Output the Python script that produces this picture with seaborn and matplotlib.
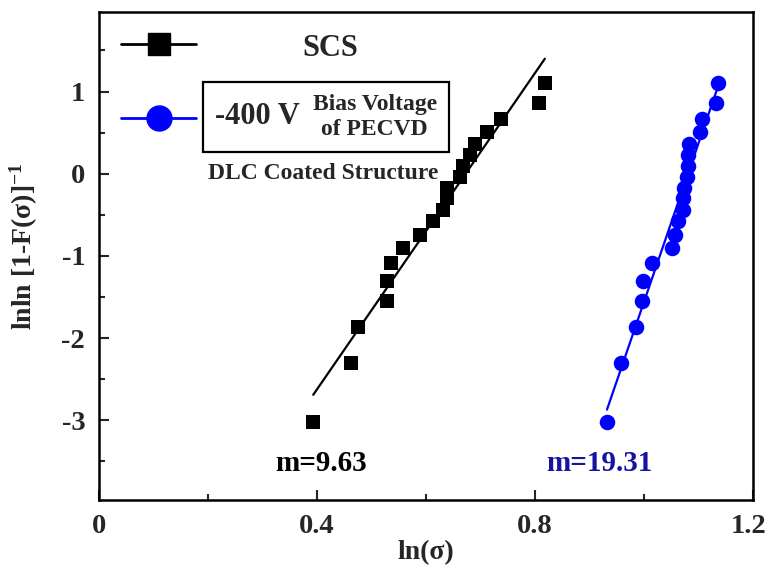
"""
Weibull plot of SCS vs DLC coated structure.
"""

import matplotlib.pyplot as plt
import matplotlib.transforms as mtransforms
import seaborn as sns
from matplotlib.lines import Line2D
from matplotlib.ticker import MultipleLocator
from matplotlib.offsetbox import TextArea, HPacker, AnchoredOffsetbox

# lnln[1-F]^-1 for each rank (same ranks for both sets)
lnln_f = [-3.02, -2.30, -1.87, -1.55, -1.30, -1.09, -0.90, -0.74, -0.58, -0.44,
          -0.30, -0.17, -0.04, 0.09, 0.23, 0.36, 0.51, 0.67, 0.86, 1.11]

# ln(sigma) for bare single crystal silicon
scs_ln_sigma = [0.393, 0.462, 0.475, 0.528, 0.528, 0.535, 0.558, 0.589, 0.613, 0.631,
                0.638, 0.638, 0.662, 0.668, 0.681, 0.690, 0.712, 0.737, 0.807, 0.818]

# ln(sigma) for -400 V DLC coated structure
dlc_ln_sigma = [0.932, 0.958, 0.985, 0.996, 0.998, 1.015, 1.051, 1.057, 1.063, 1.071,
                1.072, 1.073, 1.079, 1.081, 1.081, 1.083, 1.103, 1.106, 1.132, 1.136]

x_ticks = [0, 0.4, 0.8, 1.2]
x_tick_labels = ["0", "0.4", "0.8", "1.2"]
y_ticks = [-3, -2, -1, 0, 1]
y_tick_labels = ["-3", "-2", "-1", "0", "1"]
moduli = ["m=9.63", "m=19.31"]

sns.set_theme(style="ticks")
plt.rcParams.update({
    "font.family": ["Liberation Serif", "DejaVu Serif"],
    "font.weight": "bold",
    "axes.labelweight": "bold",
    "axes.unicode_minus": False,
    "mathtext.fontset": "custom",
    "mathtext.rm": "Liberation Serif:bold",
    "mathtext.it": "Liberation Serif:bold",
    "mathtext.bf": "Liberation Serif:bold",
    "mathtext.default": "rm",
})

BLUE = "#0000ff"
DARK_BLUE = "#1414a0"

fig = plt.figure(figsize=(7.68, 5.71), dpi=100)
ax = fig.add_axes([0.129, 0.1243, 0.8515, 0.855])

# fitted lines
sns.regplot(x=scs_ln_sigma, y=lnln_f, ax=ax, ci=None, scatter=False,
            line_kws=dict(color="black", lw=1.6))
sns.regplot(x=dlc_ln_sigma, y=lnln_f, ax=ax, ci=None, scatter=False,
            line_kws=dict(color=BLUE, lw=1.6))

# data points
sns.scatterplot(x=scs_ln_sigma, y=lnln_f, ax=ax, marker="s", s=95,
                color="black", linewidth=0, zorder=3)
sns.scatterplot(x=dlc_ln_sigma, y=lnln_f, ax=ax, marker="o", s=125,
                color=BLUE, linewidth=0, zorder=3)

ax.set_xlim(0, 1.2)
ax.set_ylim(-3.97, 1.97)
ax.set_xticks(x_ticks)
ax.set_xticklabels(x_tick_labels)
ax.set_yticks(y_ticks)
ax.set_yticklabels(y_tick_labels)
ax.xaxis.set_minor_locator(MultipleLocator(0.2))
ax.yaxis.set_minor_locator(MultipleLocator(0.5))
ax.tick_params(which="both", direction="in", width=1.5, labelsize=20.5,
               top=False, right=False, pad=10)
ax.tick_params(which="major", length=7)
ax.tick_params(which="minor", length=4.5)
for spine in ax.spines.values():
    spine.set_linewidth(1.8)
    spine.set_color("black")

# keep the last x label inside the canvas
last_label = ax.get_xticklabels()[-1]
last_label.set_transform(last_label.get_transform() +
                         mtransforms.ScaledTranslation(-4 / 100, 0, fig.dpi_scale_trans))

ax.set_xlabel("ln(σ)", fontsize=20)
ax.set_ylabel("lnln [1-F(σ)]$^{-1}$", fontsize=20)
ax.xaxis.set_label_coords(0.5, -0.083)
ax.yaxis.set_label_coords(-0.09, 0.52)

# legend handles only, texts placed separately
handles = [
    Line2D([], [], color="black", lw=2, marker="s", markersize=16),
    Line2D([], [], color=BLUE, lw=2, marker="o", markersize=18),
]
ax.legend(handles, ["", ""], loc="center left", bbox_to_anchor=(0.017, 0.853),
          frameon=False, fontsize=20, handlelength=2.7, labelspacing=1.75,
          borderaxespad=0, handletextpad=0)

fig.text(330 / 768, 1 - 49 / 571, "SCS", ha="center", va="center", fontsize=22)

big = TextArea("-400 V", textprops=dict(fontsize=22, fontweight="bold"))
small = TextArea("Bias Voltage\nof PECVD",
                 textprops=dict(fontsize=17, fontweight="bold",
                                multialignment="center", linespacing=1.25))
pack = HPacker(children=[big, small], align="center", pad=0, sep=9)
box = AnchoredOffsetbox(loc="center", child=pack, pad=0.5, borderpad=0,
                        frameon=True, bbox_to_anchor=(326 / 768, 1 - 117 / 571),
                        bbox_transform=fig.transFigure,
                        prop=dict(size=17))
box.patch.set_linewidth(1.6)
box.patch.set_edgecolor("black")
ax.add_artist(box)

fig.text(323 / 768, 1 - 173 / 571, "DLC Coated Structure", ha="center",
         va="center", fontsize=17)

ax.text(0.407, -3.52, moduli[0], ha="center", va="center", fontsize=21,
        color="black")
ax.text(0.919, -3.52, moduli[1], ha="center", va="center", fontsize=21,
        color=DARK_BLUE)

fig.savefig("out.png", dpi=100)
plt.close(fig)
